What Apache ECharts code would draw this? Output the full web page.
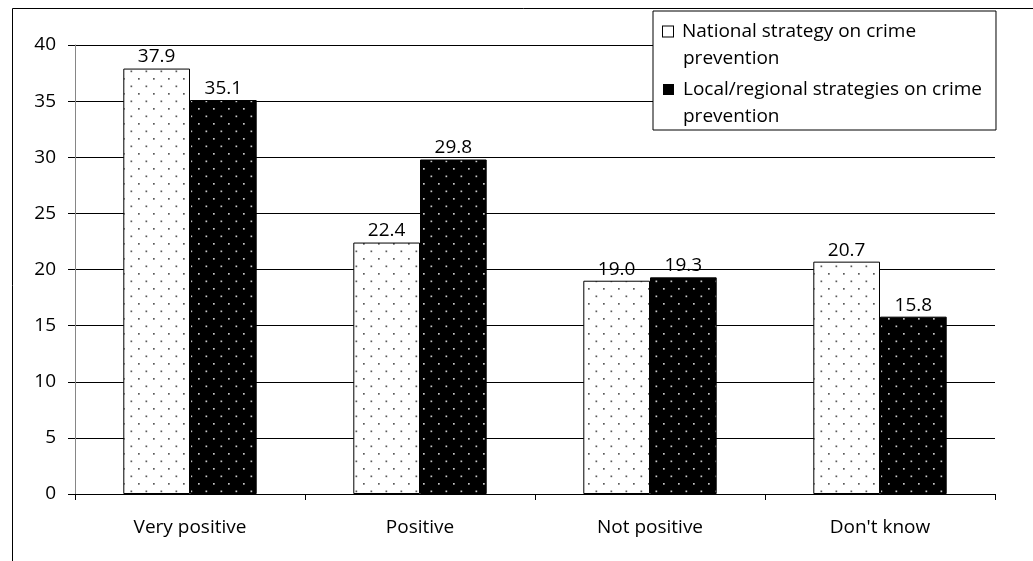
<!DOCTYPE html>
<html>
<head>
<meta charset="utf-8">
<script src="https://cdn.jsdelivr.net/npm/echarts@6/dist/echarts.min.js"></script>
<style>
  html, body { margin: 0; padding: 0; background: #fff; }
  #chart { width: 1033px; height: 561px; }
</style>
</head>
<body>
<div id="chart"></div>
<script>
// Opinions on crime prevention strategies (%)
const categories = ['Very positive', 'Positive', 'Not positive', "Don't know"];
const seriesNames = ['National strategy on crime prevention', 'Local/regional strategies on crime prevention'];
const nationalValues = [37.9, 22.4, 19.0, 20.7];
const localValues = [35.1, 29.8, 19.3, 15.8];
const yTicks = [0, 5, 10, 15, 20, 25, 30, 35, 40];

const FONT = '"Open Sans", sans-serif';
const FS = 19;

// Dotted fill: staggered grid of small dots on a solid background
function dotPattern(bg, dot) {
  const c = document.createElement('canvas');
  c.width = 15; c.height = 15;
  const g = c.getContext('2d');
  g.fillStyle = bg;
  g.fillRect(0, 0, 15, 15);
  g.fillStyle = dot;
  g.fillRect(3, 3, 1.7, 1.7);
  g.fillRect(10.5, 10.5, 1.7, 1.7);
  return c;
}

const lightFill = { image: dotPattern('#ffffff', '#5a5a5a'), repeat: 'repeat' };
const darkFill = { image: dotPattern('#000000', '#c8c8c8'), repeat: 'repeat' };

const chart = echarts.init(document.getElementById('chart'), null, { renderer: 'canvas' });

const labelCfg = {
  show: true,
  position: 'top',
  distance: 2,
  color: '#000',
  fontFamily: FONT,
  fontSize: FS,
  formatter: p => p.value.toFixed(1)
};

chart.setOption({
  animation: false,
  backgroundColor: '#fff',
  graphic: [{
    type: 'rect',
    left: 10, top: 6,
    shape: { width: 1100, height: 600 },
    style: { fill: 'none', stroke: '#000', lineWidth: 1 },
    silent: true
  }],
  grid: { left: 75, right: 38, top: 45, bottom: 67, containLabel: false },
  legend: {
    orient: 'vertical',
    left: 653, top: 11,
    padding: [7, 14, 0, 4],
    itemWidth: 0, itemHeight: 0,
    itemGap: 4,
    icon: 'rect',
    borderColor: '#000',
    borderWidth: 1,
    backgroundColor: '#fff',
    selectedMode: false,
    data: seriesNames,
    formatter: name => {
      const i = seriesNames.indexOf(name);
      const cut = name.lastIndexOf(' ');
      return '{sq' + i + '|}{g|}{t|' + name.slice(0, cut) + '}\n{ind|}{t|' + name.slice(cut + 1) + '}';
    },
    textStyle: {
      color: '#000',
      fontFamily: FONT,
      fontSize: FS,
      lineHeight: 27,
      rich: {
        sq0: { width: 10, height: 10, backgroundColor: '#fff', borderColor: '#000', borderWidth: 1 },
        sq1: { width: 11, height: 11, backgroundColor: '#000' },
        g: { width: 9 },
        ind: { width: 20 },
        t: { fontFamily: FONT, fontSize: FS, color: '#000', lineHeight: 27 }
      }
    }
  },
  xAxis: {
    type: 'category',
    data: categories,
    boundaryGap: true,
    axisLine: { lineStyle: { color: '#000', width: 1 } },
    axisTick: { show: true, length: 6, lineStyle: { color: '#000' } },
    axisLabel: { color: '#000', fontFamily: FONT, fontSize: FS, margin: 24 },
    splitLine: { show: false }
  },
  yAxis: {
    type: 'value',
    min: yTicks[0],
    max: yTicks[yTicks.length - 1],
    interval: yTicks[1] - yTicks[0],
    axisLine: { show: true, lineStyle: { color: '#868686', width: 1 } },
    axisTick: { show: true, length: 7, lineStyle: { color: '#000' } },
    axisLabel: { color: '#000', fontFamily: FONT, fontSize: FS, margin: 19 },
    splitLine: { show: true, lineStyle: { color: '#000', width: 1 } }
  },
  series: [
    {
      name: seriesNames[0],
      type: 'bar',
      data: nationalValues,
      barGap: '0%',
      barCategoryGap: '42%',
      itemStyle: { color: lightFill, borderColor: '#000', borderWidth: 1 },
      label: labelCfg
    },
    {
      name: seriesNames[1],
      type: 'bar',
      data: localValues,
      barGap: '0%',
      barCategoryGap: '42%',
      itemStyle: { color: darkFill, borderColor: '#000', borderWidth: 1 },
      label: labelCfg
    }
  ]
});
</script>
</body>
</html>
